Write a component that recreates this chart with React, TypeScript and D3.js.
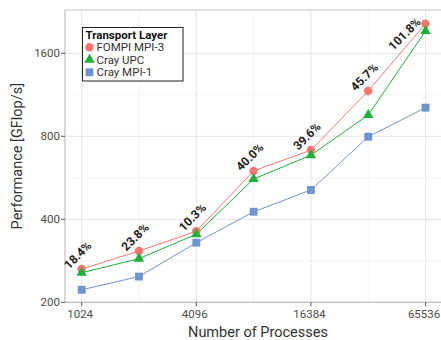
import React from 'react';
import * as d3 from 'd3';

const processes = [1024, 2048, 4096, 8192, 16384, 32768, 65536];
const fompi = [264, 307, 362, 599, 713, 1168, 2049];
const crayUpc = [256, 288, 353, 560, 683, 956, 1928];
const crayMpi1 = [222, 248, 329, 426, 511, 797, 1016];
const gainLabels = ['18.4%', '23.8%', '10.3%', '40.0%', '39.6%', '45.7%', '101.8%'];
const xTicks = [1024, 4096, 16384, 65536];
const xMinor = [2048, 8192, 32768];
const yTicks = [200, 400, 800, 1600];
const yMinor = [283, 566, 1131];

const W = 441;
const H = 340;
const left = 65;
const top = 10;
const bottom = 302.3;
const right = 442;

const font = 'Roboto, "DejaVu Sans", sans-serif';

const series = [
  { name: 'FOMPI MPI-3', values: fompi, color: '#F8766D', symbol: d3.symbolCircle, size: 56 },
  { name: 'Cray UPC', values: crayUpc, color: '#1FAF3A', symbol: d3.symbolTriangle, size: 48 },
  { name: 'Cray MPI-1', values: crayMpi1, color: '#6F95D1', symbol: d3.symbolSquare, size: 62 },
];

const App = () => {
  const x = d3.scaleLog().base(2).domain([2 ** 9.709, 2 ** 16.287]).range([left, right]);
  const y = d3.scaleLog().base(2).domain([200, 2297]).range([bottom, top]);

  const line = (vals: number[]) =>
    d3.line<number>().x((_, i) => x(processes[i])).y((d) => y(d))(vals) || '';

  return (
    <svg width={W} height={H} style={{ position: 'absolute', left: 0, top: 0, fontFamily: font }}>
      <rect x={0} y={0} width={W} height={H} fill="white" />
      {/* grid */}
      {yMinor.map((v) => (
        <line key={'ym' + v} x1={left} x2={right} y1={y(v)} y2={y(v)} stroke="#f3f3f3" strokeWidth={0.8} />
      ))}
      {xMinor.map((v) => (
        <line key={'xm' + v} x1={x(v)} x2={x(v)} y1={top} y2={bottom} stroke="#f3f3f3" strokeWidth={0.8} />
      ))}
      {yTicks.map((v) => (
        <line key={'y' + v} x1={left} x2={right} y1={y(v)} y2={y(v)} stroke="#e6e6e6" strokeWidth={1} />
      ))}
      {xTicks.map((v) => (
        <line key={'x' + v} x1={x(v)} x2={x(v)} y1={top} y2={bottom} stroke="#e6e6e6" strokeWidth={1} />
      ))}
      {/* frame */}
      <line x1={left} x2={right} y1={top} y2={top} stroke="#c4c4c4" strokeWidth={1} />
      <line x1={left} x2={left} y1={top} y2={bottom} stroke="#b3b3b3" strokeWidth={1} />
      <line x1={left} x2={right} y1={bottom} y2={bottom} stroke="#b3b3b3" strokeWidth={1} />
      {/* y axis */}
      {yTicks.map((v) => (
        <g key={'yt' + v}>
          <line x1={left - 4} x2={left} y1={y(v)} y2={y(v)} stroke="#555" />
          <text x={left - 5} y={y(v)} dy="0.35em" textAnchor="end" fontSize={11.5} fill="#4d4d4d">
            {v}
          </text>
        </g>
      ))}
      {xTicks.map((v) => (
        <g key={'xt' + v}>
          <line x1={x(v)} x2={x(v)} y1={bottom} y2={bottom + 4} stroke="#555" />
          <text x={x(v) - 1.5} y={bottom + 16} textAnchor="middle" fontSize={11.5} fill="#4d4d4d">
            {v}
          </text>
        </g>
      ))}
      <text x={(left + 441) / 2 + 5} y={337} textAnchor="middle" fontSize={14.5} fill="#333">
        Number of Processes
      </text>
      <text
        transform={`translate(22,${(top + bottom) / 2}) rotate(-90)`}
        textAnchor="middle"
        fontSize={14.5}
        fill="#333"
      >
        Performance [GFlop/s]
      </text>
      {/* series */}
      {series.map((s) => (
        <path key={s.name + 'l'} d={line(s.values)} fill="none" stroke={s.color} strokeWidth={1} />
      ))}
      {series.map((s) =>
        s.values.map((v, i) => (
          <path
            key={s.name + i}
            d={d3.symbol().type(s.symbol).size(s.size)() || ''}
            transform={`translate(${x(processes[i])},${y(v)})`}
            fill={s.color}
          />
        ))
      )}
      {/* gain labels */}
      {gainLabels.map((t, i) => {
        const last = i === gainLabels.length - 1;
        const px = x(processes[i]);
        const py = y(fompi[i]);
        return (
          <text
            key={t}
            transform={last ? `translate(${px - 4},${py - 1}) rotate(-45)` : `translate(${px - 1},${py - 11}) rotate(-45)`}
            textAnchor={last ? 'end' : 'middle'}
            fontSize={12}
            fontWeight="bold"
            fill="#222"
          >
            {t}
          </text>
        );
      })}
      {/* legend */}
      <g>
        <rect x={82.5} y={27.5} width={100.5} height={53.5} fill="white" stroke="#222" strokeWidth={1} />
        <text x={85.5} y={38.5} fontSize={11.5} fontWeight="bold" fill="#111">
          Transport Layer
        </text>
        {series.map((s, i) => (
          <g key={s.name + 'lg'} transform={`translate(89.5,${47.3 + i * 12.5})`}>
            <path d={d3.symbol().type(s.symbol).size(s.size)() || ''} fill={s.color} />
            <text x={7} dy="0.35em" fontSize={11.5} fill="#333">
              {s.name}
            </text>
          </g>
        ))}
      </g>
    </svg>
  );
};

export default App;
